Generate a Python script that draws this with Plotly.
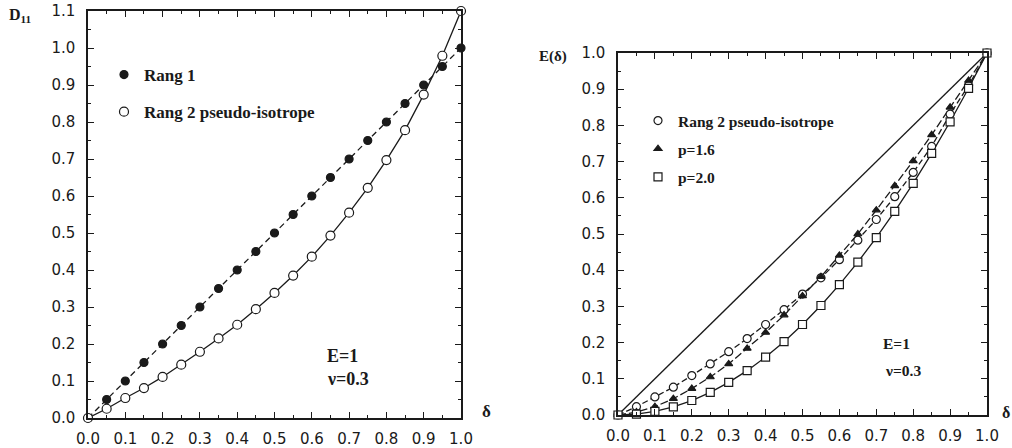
import plotly.graph_objects as go

# ---------------- data ----------------
delta = [0.0, 0.05, 0.1, 0.15, 0.2, 0.25, 0.3, 0.35, 0.4, 0.45, 0.5,
         0.55, 0.6, 0.65, 0.7, 0.75, 0.8, 0.85, 0.9, 0.95, 1.0]

# left panel: D11
d11_rang1 = [0.0, 0.05, 0.10, 0.15, 0.20, 0.25, 0.30, 0.35, 0.40, 0.45, 0.50,
             0.55, 0.60, 0.65, 0.70, 0.75, 0.80, 0.85, 0.90, 0.95, 1.00]
d11_rang2 = [0.0, 0.025, 0.054, 0.081, 0.111, 0.144, 0.179, 0.215, 0.252, 0.294, 0.338,
             0.385, 0.436, 0.493, 0.555, 0.622, 0.697, 0.778, 0.874, 0.979, 1.10]

# right panel: E(delta)
e_rang2 = [0.0, 0.023, 0.050, 0.077, 0.109, 0.141, 0.175, 0.211, 0.250, 0.291, 0.334,
           0.379, 0.429, 0.483, 0.540, 0.603, 0.670, 0.742, 0.831, 0.910, 1.0]
e_p16 = [0.0, 0.008, 0.023, 0.045, 0.073, 0.105, 0.141, 0.184, 0.228, 0.276, 0.329,
         0.382, 0.441, 0.500, 0.566, 0.633, 0.702, 0.774, 0.850, 0.924, 1.0]
e_p20 = [0.0, 0.0025, 0.010, 0.0225, 0.040, 0.0625, 0.090, 0.1225, 0.160, 0.2025, 0.250,
         0.3025, 0.360, 0.4225, 0.490, 0.5625, 0.640, 0.7225, 0.810, 0.9025, 1.0]
diag_x = [0.0, 1.0]
diag_y = [0.0, 1.0]

x_ticks = [0.0, 0.1, 0.2, 0.3, 0.4, 0.5, 0.6, 0.7, 0.8, 0.9, 1.0]
y_ticks_left = [0.0, 0.1, 0.2, 0.3, 0.4, 0.5, 0.6, 0.7, 0.8, 0.9, 1.0, 1.1]
y_ticks_right = [0.0, 0.1, 0.2, 0.3, 0.4, 0.5, 0.6, 0.7, 0.8, 0.9, 1.0]

# ---------------- figure ----------------
INK = "#1a1a1a"
SERIF = "Liberation Serif"
SANS = "DejaVu Sans"

fig = go.Figure()

def line(x, y, dash, xa, ya):
    fig.add_trace(go.Scatter(x=x, y=y, mode="lines", xaxis=xa, yaxis=ya,
                             line=dict(color=INK, width=1.3, dash=dash),
                             showlegend=False, hoverinfo="skip", cliponaxis=False))

def marks(x, y, name, symbol, fill, size, xa, ya, legend, group):
    fig.add_trace(go.Scatter(x=x, y=y, mode="markers", name="<b>" + name + "</b>",
                             xaxis=xa, yaxis=ya, legendgroup=group,
                             marker=dict(symbol=symbol, size=size, color=fill,
                                         line=dict(color=INK, width=1.2)),
                             legend=legend, cliponaxis=False))

# left panel
line(delta, d11_rang1, "6px,4px", "x", "y")
line(delta, d11_rang2, "solid", "x", "y")
marks(delta, d11_rang1, "Rang 1", "circle", INK, 8, "x", "y", "legend", "a1")
marks(delta, d11_rang2, "Rang 2 pseudo-isotrope", "circle", "white", 9, "x", "y", "legend", "a2")

# right panel
line(diag_x, diag_y, "solid", "x2", "y2")
line(delta, e_rang2, "6px,3px", "x2", "y2")
line(delta, e_p16, "8px,3px", "x2", "y2")
line(delta, e_p20, "solid", "x2", "y2")
marks(delta, e_rang2, "Rang 2 pseudo-isotrope", "circle", "white", 8, "x2", "y2", "legend2", "b1")
marks(delta, e_p16, "p=1.6", "triangle-up", INK, 7, "x2", "y2", "legend2", "b2")
marks(delta, e_p20, "p=2.0", "square", "white", 8, "x2", "y2", "legend2", "b3")

W, H = 1012, 448

def px_x(p):
    return p / W

def px_y(p):
    return 1 - p / H

axis_common = dict(
    showline=True, linecolor=INK, linewidth=1.5, mirror="allticks",
    ticks="inside", ticklen=6, tickwidth=1.2, tickcolor=INK,
    showgrid=False, zeroline=False, tickformat=".1f", automargin=False,
    tickfont=dict(family=SANS, size=15, color=INK),
    minor=dict(ticks="inside", ticklen=3, tickwidth=1, tickcolor=INK, dtick=0.05),
)

fig.update_layout(
    width=W, height=H,
    margin=dict(l=0, r=0, t=0, b=0),
    paper_bgcolor="white", plot_bgcolor="white",
    xaxis=dict(domain=[px_x(88), px_x(461)], range=[0, 1], tickvals=x_ticks,
               anchor="y", ticklabelstandoff=6, **axis_common),
    yaxis=dict(domain=[px_y(418), px_y(11)], range=[0, 1.1], tickvals=y_ticks_left,
               anchor="x", ticklabelstandoff=8, **axis_common),
    xaxis2=dict(domain=[px_x(618), px_x(987)], range=[0, 1], tickvals=x_ticks,
                anchor="y2", ticklabelstandoff=6, **axis_common),
    yaxis2=dict(domain=[px_y(415), px_y(53)], range=[0, 1], tickvals=y_ticks_right,
                anchor="x2", ticklabelstandoff=8, **axis_common),
    legend=dict(x=px_x(104), y=px_y(57), xanchor="left", yanchor="top",
                bgcolor="rgba(0,0,0,0)", font=dict(family=SERIF, size=17, color=INK),
                tracegroupgap=12, itemsizing="trace"),
    legend2=dict(x=px_x(638), y=px_y(104), xanchor="left", yanchor="top",
                 bgcolor="rgba(0,0,0,0)", font=dict(family=SERIF, size=15.5, color=INK),
                 tracegroupgap=5, itemsizing="trace"),
)

def note(text, x, y, size=16, xanchor="left"):
    fig.add_annotation(text=text, x=x, y=y, xref="paper", yref="paper",
                       xanchor=xanchor, yanchor="middle", showarrow=False,
                       font=dict(family=SERIF, size=size, color=INK))

note("<b>D<sub>11</sub></b>", px_x(7), px_y(16), size=16)
note("<b>E(δ)</b>", px_x(537), px_y(57), size=15)
note("<b>δ</b>", px_x(480), px_y(411), size=17)
note("<b>δ</b>", px_x(1012), px_y(412), size=16, xanchor="right")
note("<b>E=1</b>", px_x(325), px_y(356), size=18)
note("<b>ν=0.3</b>", px_x(325), px_y(379), size=18)
note("<b>E=1</b>", px_x(881), px_y(343), size=15.5)
note("<b>ν=0.3</b>", px_x(883), px_y(370), size=15.5)

fig.write_html("out.html", config={"displayModeBar": False},
               post_script="document.body.style.margin='0';")
